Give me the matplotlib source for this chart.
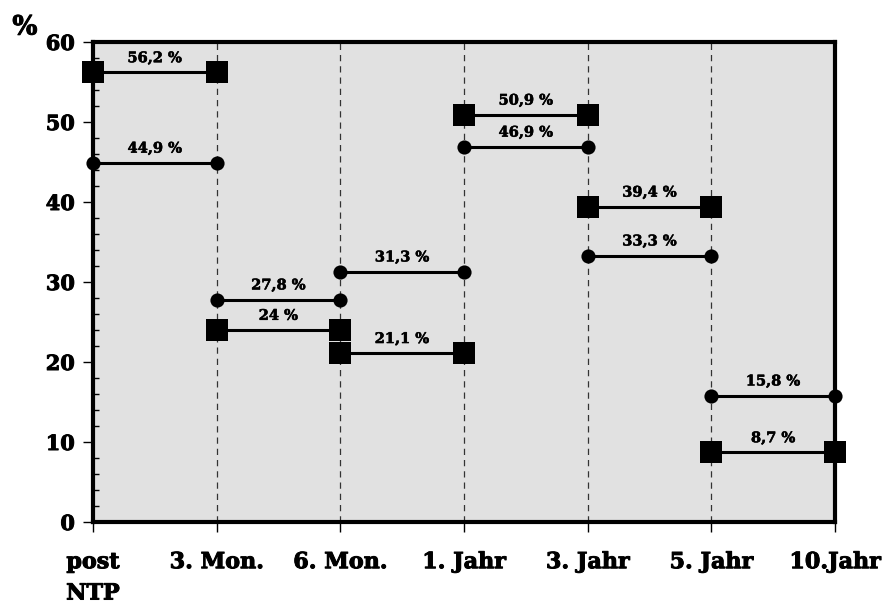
import matplotlib
matplotlib.use("Agg")
import matplotlib.pyplot as plt
import matplotlib.patheffects as pe

# Time points and survival rates (%) per interval
time_labels = ["post\nNTP", "3. Mon.", "6. Mon.", "1. Jahr", "3. Jahr", "5. Jahr", "10.Jahr"]
square_values = [56.2, 24.0, 21.1, 50.9, 39.4, 8.7]
circle_values = [44.9, 27.8, 31.3, 46.9, 33.3, 15.8]
square_labels = ["56,2 %", "24 %", "21,1 %", "50,9 %", "39,4 %", "8,7 %"]
circle_labels = ["44,9 %", "27,8 %", "31,3 %", "46,9 %", "33,3 %", "15,8 %"]

plt.rcParams["font.family"] = ["DejaVu Serif"]
plt.rcParams["font.weight"] = "bold"

heavy = [pe.withStroke(linewidth=0.7, foreground="black")]
heavy_small = [pe.withStroke(linewidth=0.4, foreground="black")]

fig = plt.figure(figsize=(8.82, 6.07), dpi=100)
ax = fig.add_axes([0.1054, 0.140, 0.8413, 0.7908])
ax.set_facecolor("#e1e1e1")

n = len(time_labels)
ax.set_xlim(0, n - 1)
ax.set_ylim(0, 60)

# dashed guides at each time point
for i in range(1, n - 1):
    ax.axvline(i, color="#333333", lw=0.9, ls=(0, (5, 4)), zorder=1)

for i, (v, lab) in enumerate(zip(square_values, square_labels)):
    ax.plot([i, i + 1], [v, v], color="black", lw=2.2, marker="s", ms=16.3,
            mew=0, clip_on=False, zorder=4)
    ax.text(i + 0.5, v + 0.9, lab, ha="center", va="bottom", fontsize=10.5,
            fontweight="bold", zorder=5, path_effects=heavy_small)

for i, (v, lab) in enumerate(zip(circle_values, circle_labels)):
    ax.plot([i, i + 1], [v, v], color="black", lw=2.2, marker="o", ms=10.2,
            mew=0, clip_on=False, zorder=4)
    ax.text(i + 0.5, v + 0.9, lab, ha="center", va="bottom", fontsize=10.5,
            fontweight="bold", zorder=5, path_effects=heavy_small)

for s in ax.spines.values():
    s.set_linewidth(3.0)
    s.set_zorder(3)

ax.set_yticks(range(0, 61, 10))
ax.set_yticks(range(0, 61, 2), minor=True)
ax.set_xticks(range(n))
ax.set_xticklabels(time_labels, fontsize=16, fontweight="bold", va="top",
                   linespacing=1.55)
for t in ax.get_xticklabels():
    t.set_horizontalalignment("center")
    t.set_path_effects(heavy)
ax.tick_params(axis="y", which="major", direction="out", length=7, width=1,
               labelsize=15, pad=6)
ax.tick_params(axis="y", which="minor", direction="in", length=4, width=1)
ax.tick_params(axis="x", which="major", direction="out", length=7, width=1,
               pad=14)
for t in ax.get_yticklabels():
    t.set_fontweight("bold")
    t.set_path_effects(heavy)

fig.text(0.014, 0.935, "%", fontsize=19, fontweight="bold", ha="left",
         va="bottom", path_effects=heavy)

fig.savefig("out.png", dpi=100)
